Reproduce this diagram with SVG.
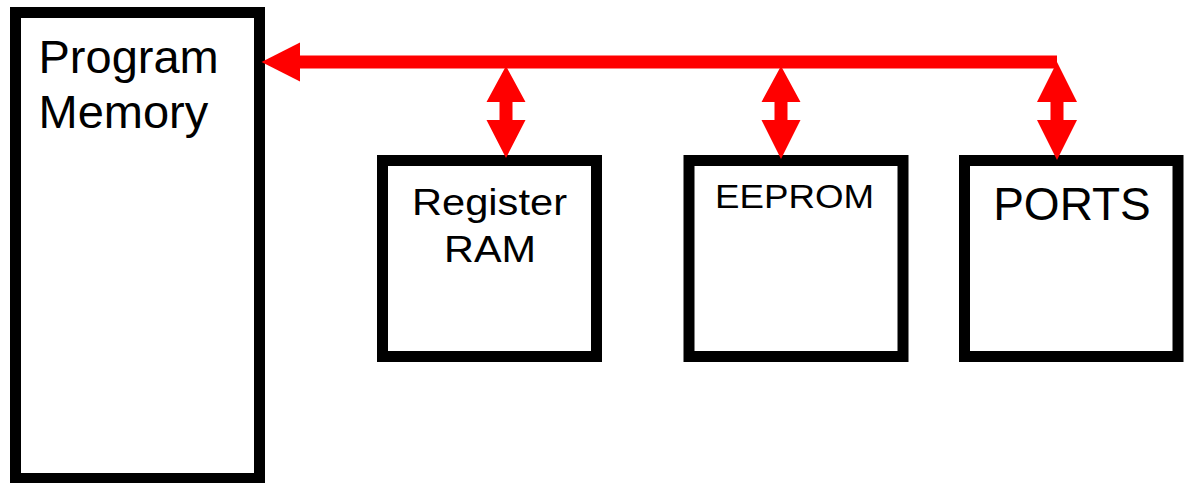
<svg xmlns="http://www.w3.org/2000/svg" width="1192" height="483" viewBox="0 0 1192 483">
  <style>
    .box { fill: #ffffff; stroke: #000000; stroke-width: 11; }
    .label { font-family: "Liberation Sans", Arial, sans-serif; fill: #000000; }
    .bus { fill: #ff0000; stroke: none; }
  </style>
  <rect x="0" y="0" width="1192" height="483" fill="#ffffff"/>

  <g id="program-memory">
    <rect class="box" x="15.5" y="12.5" width="244" height="466"/>
    <text class="label" x="38.5" y="73" font-size="47">Program</text>
    <text class="label" x="38.5" y="128" font-size="47">Memory</text>
  </g>

  <g id="register-ram">
    <rect class="box" x="382.5" y="160.5" width="214" height="196"/>
    <text class="label" x="489.5" y="215" font-size="37" text-anchor="middle" textLength="155" lengthAdjust="spacingAndGlyphs">Register</text>
    <text class="label" x="490" y="262" font-size="37" text-anchor="middle" textLength="92" lengthAdjust="spacingAndGlyphs">RAM</text>
  </g>

  <g id="eeprom">
    <rect class="box" x="689" y="160.5" width="214" height="196"/>
    <text class="label" x="794.5" y="207.5" font-size="34" text-anchor="middle" textLength="159" lengthAdjust="spacingAndGlyphs">EEPROM</text>
  </g>

  <g id="ports">
    <rect class="box" x="964.5" y="160.5" width="213.5" height="196"/>
    <text class="label" x="1072" y="220" font-size="46" text-anchor="middle">PORTS</text>
  </g>

  <g id="connectors">
    <!-- data bus with arrowhead into program memory -->
    <rect class="bus" x="299" y="55.5" width="758" height="13"/>
    <polygon class="bus" points="261.5,62 300,42.5 300,81.5"/>
    <!-- bidirectional taps to each peripheral -->
    <polygon class="bus" points="506,66 525.5,102 512.5,102 512.5,120 525.5,120 506,158 486.5,120 499.5,120 499.5,102 486.5,102"/>
    <polygon class="bus" points="781,66 800.5,102 787.5,102 787.5,120 800.5,120 781,159 761.5,120 774.5,120 774.5,102 761.5,102"/>
    <polygon class="bus" points="1057,62 1077,102 1063.5,102 1063.5,120 1077,120 1057,160 1037,120 1050.5,120 1050.5,102 1037,102"/>
  </g>
</svg>
